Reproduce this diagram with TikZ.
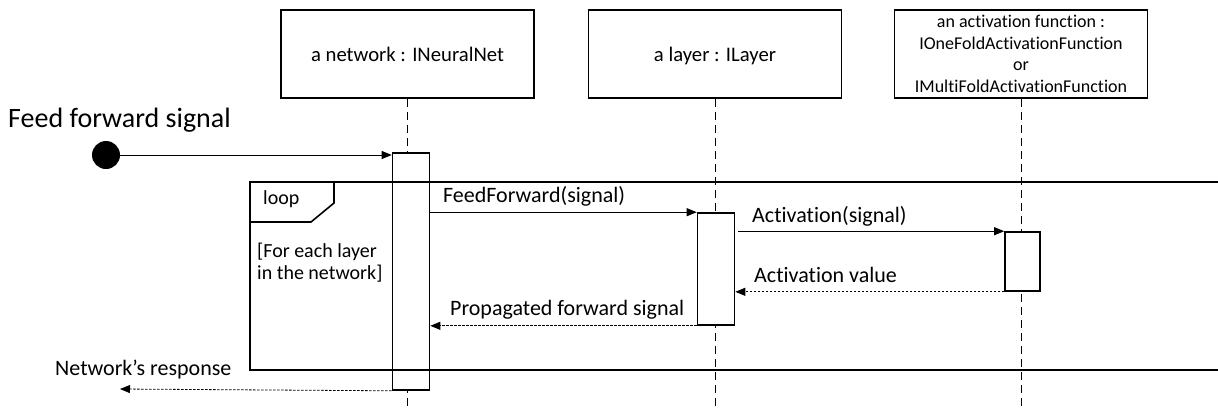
\documentclass[tikz,border=0pt]{standalone}
\usepackage{fontspec}
\setmainfont{Carlito}[Ligatures=NoCommon]
\usetikzlibrary{arrows.meta,positioning}

\begin{document}
\begin{tikzpicture}[x=1pt, y=-1pt,
    head/.style={draw, line width=1.6pt, minimum width=253pt, minimum height=88pt, align=center, font=\fontsize{20.7}{24}\selectfont},
    headone/.style={head, text height=17pt, text depth=1.5pt},
    bar/.style={draw, line width=1.6pt, fill=white, minimum width=37pt, inner sep=0pt},
    lifeline/.style={line width=0.8pt, dash pattern=on 8pt off 5pt},
    call/.style={-{Triangle[length=10pt, width=8pt]}, line width=0.8pt},
    reply/.style={call, dash pattern=on 2.5pt off 1.5pt},
    msg/.style={anchor=base west, inner sep=0pt, font=\fontsize{22}{22}\selectfont},
    frame/.style={line width=1.6pt}
]
    \useasboundingbox (0,0) rectangle (1218,408);
    \coordinate (bottom) at (0,408);

    % Lifeline heads
    \node[headone] (net) at (407.5,54) {a network : INeuralNet};
    \node[headone] (layer) at (715,54) {a layer : ILayer};
    \node[head, font=\fontsize{18}{21.7}\selectfont] (actfn) at (1021,54) {an activation function :\\IOneFoldActivationFunction\\or\\IMultiFoldActivationFunction};

    \draw[lifeline] (net.south) -- (net.south |- bottom);
    \draw[lifeline] (layer.south) -- (layer.south |- bottom);
    \draw[lifeline] (actfn.south) -- (actfn.south |- bottom);

    % Activation bars
    \node[bar, minimum height=237pt] (netbar) at (411,271.5) {};
    \node[bar, minimum height=112pt] (layerbar) at (716,269) {};
    \node[bar, minimum width=35pt, minimum height=59pt] (actbar) at (1022.5,261.5) {};

    % Loop frame
    \draw[frame] (1218,182) -- (250,182) -- (250,370) -- (1218,370);
    \draw[frame] (334,182) -- (334,203) -- (311,222) -- (250,222);
    \node[msg, font=\fontsize{20}{20}\selectfont] (looplbl) at (263,204) {loop};
    \node[msg, font=\fontsize{20}{22}\selectfont] (guard1) at (257,257) {[For each layer};
    \node[msg, font=\fontsize{20}{22}\selectfont] (guard2) at (257,279) {in the network]};

    % Incoming signal
    \node[msg, font=\fontsize{28}{30}\selectfont] (title) at (8,127) {Feed forward signal};
    \node[circle, fill, minimum size=28pt, inner sep=0pt] (start) at (106,155) {};
    \draw[call] (start.east) -- (start -| netbar.west);

    % Messages
    \draw[call] (netbar.east |- layerbar.north) -- (layerbar.north west);
    \node[msg] (ffwd) at (443,202) {FeedForward(signal)};
    \draw[call] ([xshift=3pt]layerbar.east |- actbar.north) -- (actbar.north west);
    \node[msg] (actcall) at (752,222) {Activation(signal)};
    \draw[reply] (actbar.south west) -- (layerbar.east |- actbar.south);
    \node[msg] (actval) at (754,282) {Activation value};
    \draw[reply] (layerbar.south west) -- (netbar.east |- layerbar.south);
    \node[msg] (propsig) at (450,315) {Propagated forward signal};

    % Response
    \coordinate (resp) at (120,389);
    \draw[reply] (netbar.south west) -- (resp);
    \node[msg] (resplbl) at (55,375) {Network’s response};
\end{tikzpicture}
\end{document}
